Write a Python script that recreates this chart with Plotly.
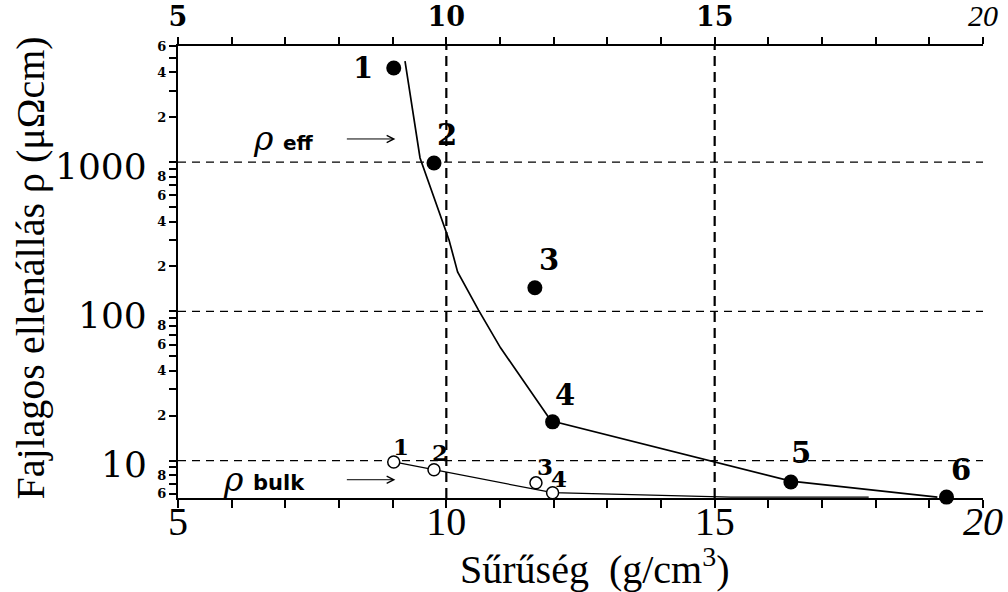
import math
import plotly.graph_objects as go

# Samples: density (g/cm3) vs. resistivity (µΩcm)
density = [9.02, 9.77, 11.65, 11.98, 16.42, 19.32]
rho_eff = [4275, 986, 144, 18.2, 7.2, 5.7]
eff_ids = ["1", "2", "3", "4", "5", "6"]

bulk_density = [9.02, 9.77, 11.67, 11.98, 16.42]
rho_bulk = [9.8, 8.7, 7.1, 6.1, 5.6]
bulk_ids = ["1", "2", "3", "4", "5"]

# Hand-drawn guide curves through the two data sets
eff_curve_x = [9.23, 9.51, 10.05, 10.21, 10.6, 11.01, 11.95, 16.42, 19.15]
eff_curve_y = [4760, 1067, 301, 184, 102, 57, 18.5, 7.3, 5.7]
bulk_curve_x = [9.02, 9.77, 11.98, 15.3, 17.87]
bulk_curve_y = [9.8, 8.7, 6.1, 5.7, 5.7]

# Axis ticks
x_ticks = list(range(5, 21))
x_major = {5: "5", 10: "10", 15: "15", 20: "<i>20</i>"}
x_top_major = {5: "<b>5</b>", 10: "<b>10</b>", 15: "<b>15</b>",
               20: '<span style="font-family:Liberation Serif;font-size:30px"><i>20</i></span>'}
y_decades = [10, 100, 1000]
y_small_labels = {2: "2", 4: "4", 6: "6", 8: "8"}
x_grid = [10, 15]

X_RANGE = [5, 20]
Y_MIN, Y_MAX = 5.62, 6000
Y_RANGE = [math.log10(Y_MIN), math.log10(Y_MAX)]

SERIF = "Liberation Serif"
CENTURY = "DejaVu Serif"

# label offsets (pixels) relative to each marker
eff_offsets = [(-31, 0), (13, 28), (14, 28), (12, 27), (10, 29), (14, 27)]
bulk_offsets = [(7, 15), (6, 17), (9, 16), (6, 14), (-23, 7)]

fig = go.Figure()

# dashed reference lines
for v in y_decades:
    fig.add_trace(go.Scatter(x=X_RANGE, y=[v, v], mode="lines",
                             line=dict(color="black", width=1.3, dash="8px,6px"),
                             hoverinfo="skip", showlegend=False))
for v in x_grid:
    fig.add_trace(go.Scatter(x=[v, v], y=[Y_MIN, Y_MAX], mode="lines",
                             line=dict(color="black", width=2.2, dash="10px,6px"),
                             hoverinfo="skip", showlegend=False))

# guide curves
fig.add_trace(go.Scatter(x=eff_curve_x, y=eff_curve_y, mode="lines",
                         line=dict(color="black", width=1.7),
                         hoverinfo="skip", showlegend=False))
fig.add_trace(go.Scatter(x=bulk_curve_x, y=bulk_curve_y, mode="lines",
                         line=dict(color="black", width=1.2),
                         hoverinfo="skip", showlegend=False))

# data points
fig.add_trace(go.Scatter(x=density, y=rho_eff, mode="markers",
                         marker=dict(color="black", size=15, symbol="circle"),
                         cliponaxis=False, showlegend=False, name="ρ eff"))
fig.add_trace(go.Scatter(x=bulk_density, y=rho_bulk, mode="markers",
                         marker=dict(color="white", size=12, symbol="circle",
                                     line=dict(color="black", width=1.5)),
                         cliponaxis=False, showlegend=False, name="ρ bulk"))

# invisible trace so the top axis is drawn
fig.add_trace(go.Scatter(x=X_RANGE, y=[10, 10], xaxis="x2", mode="markers",
                         marker=dict(opacity=0), hoverinfo="skip", showlegend=False))

annotations = []
for x, y, t, (dx, dy) in zip(density, rho_eff, eff_ids, eff_offsets):
    annotations.append(dict(x=x, y=math.log10(y), text=t, showarrow=False,
                            xshift=dx, yshift=dy,
                            font=dict(family=CENTURY, size=29, color="black", weight="bold")))
for x, y, t, (dx, dy) in zip(bulk_density, rho_bulk, bulk_ids, bulk_offsets):
    annotations.append(dict(x=x, y=math.log10(y), text=t, showarrow=False,
                            xshift=dx, yshift=dy,
                            font=dict(family=CENTURY, size=23, color="black", weight="bold")))

# large decade labels on the y axis
for v in y_decades:
    annotations.append(dict(xref="paper", x=0, y=math.log10(v), yref="y",
                            text=str(v), showarrow=False, xanchor="right",
                            xshift=-29, yshift=-4,
                            font=dict(family=CENTURY, size=36, color="black")))

# ρ_eff / ρ_bulk markers with arrows
annotations += [
    dict(xref="paper", yref="y", x=0.091, y=math.log10(1430), text="ρ", showarrow=False,
         font=dict(family=CENTURY, size=33, color="black", style="italic")),
    dict(xref="paper", yref="y", x=0.128, y=math.log10(1430), text="eff", showarrow=False,
         yshift=-4, font=dict(family="DejaVu Sans", size=20, color="black", weight="bold")),
    dict(xref="x", yref="y", x=9.05, y=math.log10(1430), ax=-50, ay=0, text="",
         showarrow=True, arrowhead=5, arrowsize=1.4, arrowwidth=1, arrowcolor="black",
         standoff=0),
    dict(xref="paper", yref="y", x=0.053, y=math.log10(7.5), text="ρ", showarrow=False,
         font=dict(family=CENTURY, size=33, color="black", style="italic")),
    dict(xref="paper", yref="y", x=0.091, y=math.log10(7.5), text="bulk", showarrow=False,
         yshift=-4, font=dict(family="DejaVu Sans", size=21, color="black", weight="bold")),
    dict(xref="x", yref="y", x=9.05, y=math.log10(7.45), ax=-50, ay=0, text="",
         showarrow=True, arrowhead=5, arrowsize=1.4, arrowwidth=1, arrowcolor="black",
         standoff=0),
]

# axis titles
annotations += [
    dict(xref="paper", yref="paper", x=-0.183, y=0.509, text="Fajlagos ellenállás ρ (μΩcm)",
         textangle=-90, showarrow=False, xanchor="center", yanchor="middle",
         font=dict(family=SERIF, size=40, color="black")),
    dict(xref="paper", yref="paper", x=0.518, y=-0.152, text="Sűrűség  (g/cm<sup>3</sup>)",
         showarrow=False, xanchor="center", yanchor="middle",
         font=dict(family=SERIF, size=40, color="black")),
]

# y ticks at every mantissa, small labels at 2, 4, 6, 8
y_tickvals, y_ticktext = [], []
for d in [1, 10, 100, 1000]:
    for m in range(1, 10):
        v = m * d
        if Y_MIN * 0.99 <= v <= Y_MAX * 1.001:
            y_tickvals.append(v)
            y_ticktext.append(y_small_labels.get(m, ""))

fig.update_layout(
    width=1008, height=592,
    margin=dict(l=178, r=25, t=46, b=94),
    paper_bgcolor="white", plot_bgcolor="white",
    annotations=annotations,
    xaxis=dict(range=X_RANGE, showgrid=False, zeroline=False, automargin=False,
               showline=True, linecolor="black", linewidth=2,
               ticks="outside", ticklen=8, tickwidth=2, tickcolor="black",
               tickvals=x_ticks, ticktext=[x_major.get(v, "") for v in x_ticks],
               ticklabelstandoff=-21,
               tickfont=dict(family=SERIF, size=40, color="black")),
    xaxis2=dict(range=X_RANGE, overlaying="x", side="top", anchor="y", automargin=False,
                showgrid=False, zeroline=False,
                showline=True, linecolor="black", linewidth=2,
                ticks="outside", ticklen=7, tickwidth=2, tickcolor="black",
                tickvals=x_ticks, ticktext=[x_top_major.get(v, "") for v in x_ticks],
                tickfont=dict(family=CENTURY, size=27, color="black")),
    yaxis=dict(type="log", range=Y_RANGE, showgrid=False, zeroline=False, automargin=False,
               showline=True, linecolor="black", linewidth=2,
               ticks="outside", ticklen=7, tickwidth=1.5, tickcolor="black",
               tickvals=y_tickvals, ticktext=y_ticktext,
               tickfont=dict(family=CENTURY, size=13, color="black", weight="bold")),
)

fig.write_html("out.html")
